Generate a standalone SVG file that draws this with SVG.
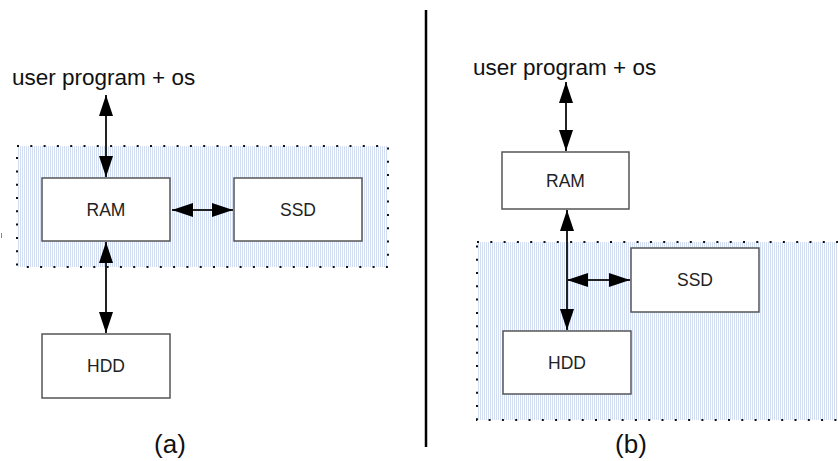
<svg xmlns="http://www.w3.org/2000/svg" width="838" height="461" viewBox="0 0 838 461">
<style>
.box{fill:#fff;stroke:#555;stroke-width:1.5}
.lbl{font-family:"Liberation Sans",Arial,sans-serif;font-size:17.5px;fill:#222;text-anchor:middle}
.big{font-family:"Liberation Sans",Arial,sans-serif;font-size:22.5px;fill:#111}
.cap{font-family:"Liberation Sans",Arial,sans-serif;font-size:26px;fill:#111;text-anchor:middle}
.grp{fill:url(#dots);stroke:#111;stroke-width:2;stroke-dasharray:2 11.3}
.conn{stroke:#222;stroke-width:2;fill:none;marker-start:url(#ah);marker-end:url(#ah)}
</style>
<defs>
<pattern id="dots" width="2" height="2" patternUnits="userSpaceOnUse">
<rect width="2" height="2" fill="#fcfdfe"/>
<rect width="1" height="2" fill="#d3def2"/>
</pattern>
<marker id="ah" markerUnits="userSpaceOnUse" markerWidth="21" markerHeight="15" refX="21" refY="7.5" orient="auto-start-reverse" viewBox="0 0 21 15">
<path d="M0,0.5 L21,7.5 L0,14.5 z" fill="#000"/>
</marker>
</defs>
<rect width="838" height="461" fill="#fff"/>
<line x1="426" y1="10" x2="426" y2="447" stroke="#000" stroke-width="2.5"/>
<line x1="1.5" y1="233" x2="1.5" y2="238" stroke="#888" stroke-width="1"/>
<g id="group-a">
<rect class="grp" x="17" y="146" width="371" height="121"/>
</g>
<g id="group-b">
<rect class="grp" x="477" y="242" width="370" height="178"/>
</g>
<g id="connectors">
<line class="conn" x1="106" y1="95" x2="106" y2="177"/>
<line class="conn" x1="172" y1="210" x2="233" y2="210"/>
<line class="conn" x1="106" y1="242" x2="106" y2="333"/>
<line class="conn" x1="566" y1="82" x2="566" y2="151"/>
<line class="conn" x1="567" y1="210" x2="567" y2="330"/>
<line class="conn" x1="567" y1="280" x2="630" y2="280"/>
</g>
<g id="user-a"><text class="big" x="12" y="85">user program + os</text></g>
<g id="ram-a"><rect class="box" x="42" y="178" width="128" height="63"/><text class="lbl" x="106" y="216">RAM</text></g>
<g id="ssd-a"><rect class="box" x="234" y="178" width="128" height="63"/><text class="lbl" x="298" y="216">SSD</text></g>
<g id="hdd-a"><rect class="box" x="42" y="334" width="128" height="64"/><text class="lbl" x="106" y="372">HDD</text></g>
<g id="cap-a"><text class="cap" x="170" y="453">(a)</text></g>
<g id="user-b"><text class="big" x="473" y="75">user program + os</text></g>
<g id="ram-b"><rect class="box" x="502" y="152" width="127" height="57"/><text class="lbl" x="565.5" y="187">RAM</text></g>
<g id="ssd-b"><rect class="box" x="631" y="248" width="128" height="64"/><text class="lbl" x="695" y="286">SSD</text></g>
<g id="hdd-b"><rect class="box" x="503" y="331" width="128" height="63"/><text class="lbl" x="567" y="369">HDD</text></g>
<g id="cap-b"><text class="cap" x="631" y="453">(b)</text></g>
</svg>
